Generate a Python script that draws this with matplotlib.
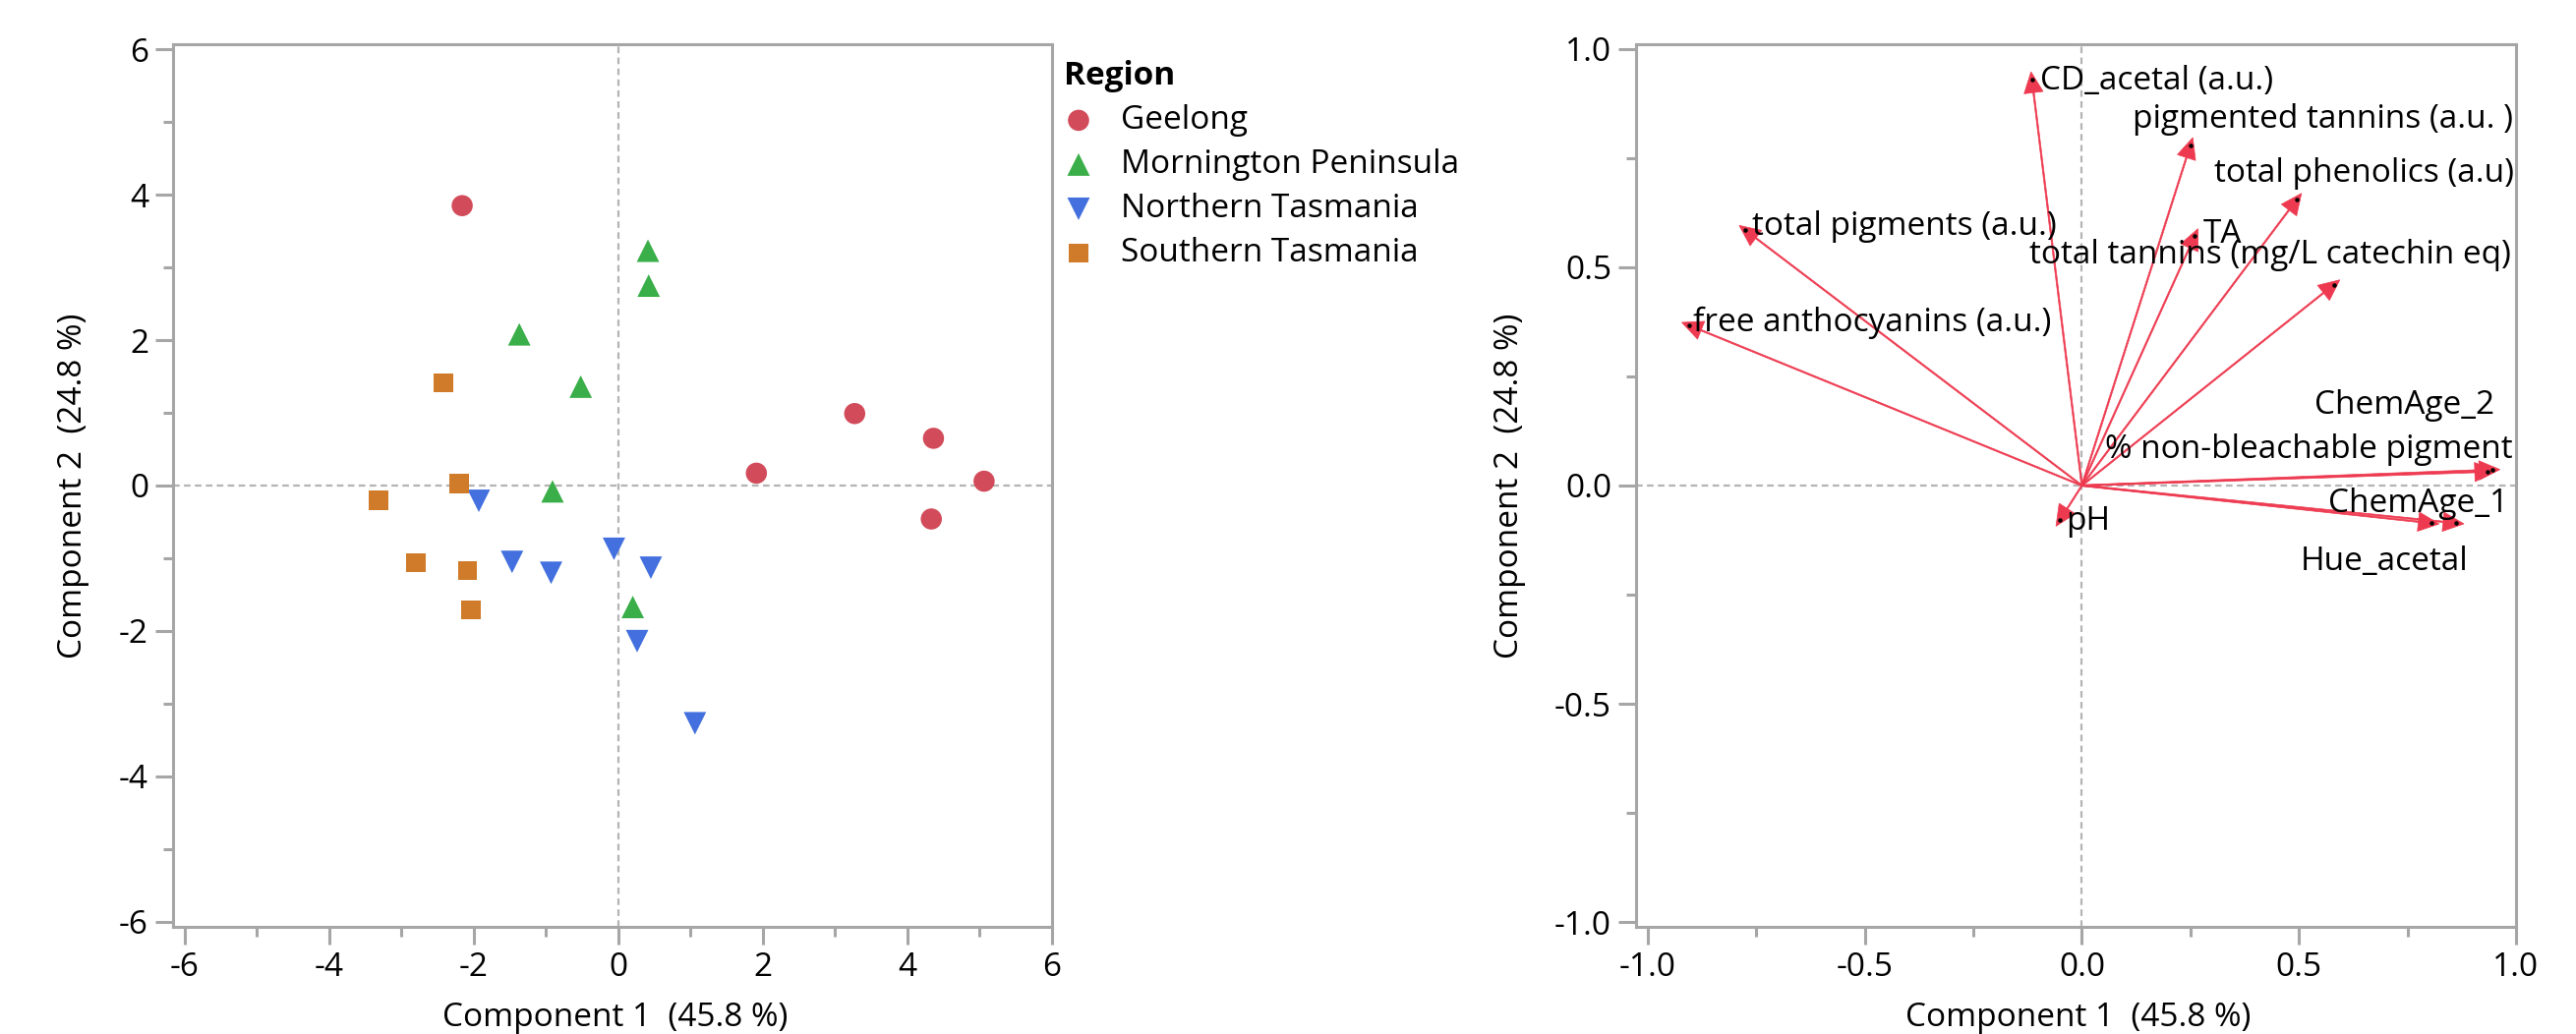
import numpy as np
import matplotlib
matplotlib.use("Agg")
import matplotlib.pyplot as plt
from matplotlib.ticker import MultipleLocator, FormatStrFormatter

plt.rcParams['font.family'] = ['Open Sans', 'DejaVu Sans']
plt.rcParams['axes.unicode_minus'] = False

# ---------------- data ----------------
regions = ['Geelong', 'Mornington Peninsula', 'Northern Tasmania', 'Southern Tasmania']

geelong_pc1 = [-2.16, 3.27, 4.36, 1.91, 5.06, 4.33]
geelong_pc2 = [3.85, 0.99, 0.65, 0.17, 0.06, -0.46]
mornington_pc1 = [0.41, 0.42, -1.37, -0.52, -0.91, 0.20]
mornington_pc2 = [3.23, 2.75, 2.08, 1.36, -0.08, -1.67]
ntas_pc1 = [-1.93, -1.47, -0.93, -0.06, 0.45, 0.26, 1.06]
ntas_pc2 = [-0.21, -1.05, -1.20, -0.87, -1.13, -2.14, -3.27]
stas_pc1 = [-2.42, -2.20, -3.32, -2.80, -2.09, -2.04]
stas_pc2 = [1.41, 0.03, -0.20, -1.06, -1.17, -1.71]

variables = ['CD_acetal (a.u.)', 'pigmented tannins (a.u. )', 'total phenolics (a.u)', 'TA',
             'total tannins (mg/L catechin eq)', 'total pigments (a.u.)', 'free anthocyanins (a.u.)',
             'ChemAge_2', '% non-bleachable pigment', 'ChemAge_1', 'Hue_acetal', 'pH']
load_pc1 = [-0.115, 0.25, 0.495, 0.26, 0.58, -0.775, -0.905, 0.945, 0.935, 0.862, 0.805, -0.05]
load_pc2 = [0.93, 0.78, 0.655, 0.572, 0.46, 0.585, 0.367, 0.036, 0.032, -0.086, -0.086, -0.078]

pc1_pct = 45.8
pc2_pct = 24.8

# ---------------- styling / layout ----------------
region_colors = ['#D24B5A', '#3AAE48', '#4370DE', '#CF7B2A']
region_markers = ['o', '^', 'v', 's']
region_sizes = [15.5, 16.5, 16.5, 14.0]
arrow_color = '#EE3A50'
spine_color = '#A6A6A6'
zero_color = '#B4B4B4'
FS = 24
HEAD_LEN = 0.048     # arrow head length (data units)
HEAD_W = 0.044       # arrow head full width (data units)
HEAD_OVER = 0.018    # how far the head tip reaches past the loading point

# label offsets (points) and horizontal alignment for loading labels
label_layout = {
    'CD_acetal (a.u.)': (6, -1, 'left'),
    'pigmented tannins (a.u. )': (236, 19, 'right'),
    'total phenolics (a.u)': (159, 19, 'right'),
    'TA': (6, 1, 'left'),
    'total tannins (mg/L catechin eq)': (130, 22, 'right'),
    'total pigments (a.u.)': (5, 3, 'left'),
    'free anthocyanins (a.u.)': (3, 2, 'left'),
    'ChemAge_2': (2, 47, 'right'),
    '% non-bleachable pigment': (18, 16, 'right'),
    'ChemAge_1': (38, 14, 'right'),
    'Hue_acetal': (27, -28, 'right'),
    'pH': (4, -1, 'left'),
}

W, H = 2620, 1052
fig = plt.figure(figsize=(W / 100, H / 100), dpi=100)
ax1 = fig.add_axes([176 / W, 109 / H, 894 / W, 898 / H])
ax2 = fig.add_axes([1664 / W, 109 / H, 895 / W, 898 / H])


def style_axes(ax):
    for s in ax.spines.values():
        s.set_color(spine_color)
        s.set_linewidth(2.2)
    ax.tick_params(which='major', length=13, width=2.2, color=spine_color,
                   labelsize=FS, pad=5, labelcolor='black')
    ax.tick_params(which='minor', length=7, width=2.2, color=spine_color)
    ax.axhline(0, color=zero_color, lw=1.6, ls=(0, (3, 2)), zorder=0.5)
    ax.axvline(0, color=zero_color, lw=1.6, ls=(0, (3, 2)), zorder=0.5)


# ---------------- score plot ----------------
style_axes(ax1)
xs = [geelong_pc1, mornington_pc1, ntas_pc1, stas_pc1]
ys = [geelong_pc2, mornington_pc2, ntas_pc2, stas_pc2]
handles = []
for name, x, y, c, m, ms in zip(regions, xs, ys, region_colors, region_markers, region_sizes):
    h = ax1.scatter(x, y, s=ms ** 2, marker=m, color=c, edgecolors='none', zorder=3, label=name)
    handles.append(h)
ax1.set_xlim(-6.16, 6.0)
ax1.set_ylim(-6.07, 6.07)
ax1.xaxis.set_major_locator(MultipleLocator(2))
ax1.xaxis.set_minor_locator(MultipleLocator(1))
ax1.yaxis.set_major_locator(MultipleLocator(2))
ax1.yaxis.set_minor_locator(MultipleLocator(1))
ax1.set_xlabel(f'Component 1  ({pc1_pct} %)', fontsize=FS, va='center')
ax1.set_ylabel(f'Component 2  ({pc2_pct} %)', fontsize=FS, va='center')
ax1.xaxis.set_label_coords(0.503, -0.1025)
ax1.yaxis.set_label_coords(-0.113, 0.5)

leg = ax1.legend(handles, regions, title='Region', loc='upper left',
                 bbox_to_anchor=(1.0134, 0.982), frameon=False, fontsize=FS,
                 title_fontproperties={'weight': 'bold', 'size': FS},
                 handlelength=0.9, handletextpad=0.85, labelspacing=0.36,
                 borderpad=0, borderaxespad=0, alignment='left', scatterpoints=1)

# ---------------- loading plot ----------------
style_axes(ax2)
for name, x, y in zip(variables, load_pc1, load_pc2):
    r = np.hypot(x, y)
    k = 1 + HEAD_OVER / r
    ax2.arrow(0, 0, x * k, y * k, width=0.0032, head_width=HEAD_W, head_length=HEAD_LEN,
              length_includes_head=True, color=arrow_color, lw=0.5, zorder=3)
ax2.scatter(load_pc1, load_pc2, s=5, color='black', zorder=4)
for name, x, y in zip(variables, load_pc1, load_pc2):
    dx, dy, ha = label_layout[name]
    ax2.annotate(name, xy=(x, y), xytext=(dx, dy), textcoords='offset points',
                 ha=ha, va='center', fontsize=FS, color='black', zorder=5)
ax2.set_xlim(-1.027, 1.0)
ax2.set_ylim(-1.011, 1.011)
ax2.xaxis.set_major_locator(MultipleLocator(0.5))
ax2.xaxis.set_minor_locator(MultipleLocator(0.25))
ax2.yaxis.set_major_locator(MultipleLocator(0.5))
ax2.yaxis.set_minor_locator(MultipleLocator(0.25))
ax2.xaxis.set_major_formatter(FormatStrFormatter('%.1f'))
ax2.yaxis.set_major_formatter(FormatStrFormatter('%.1f'))
ax2.set_xlabel(f'Component 1  ({pc1_pct} %)', fontsize=FS, va='center')
ax2.set_ylabel(f'Component 2  ({pc2_pct} %)', fontsize=FS, va='center')
ax2.xaxis.set_label_coords(0.503, -0.1025)
ax2.yaxis.set_label_coords(-0.144, 0.5)

fig.savefig('out.png', dpi=100, facecolor='white')
